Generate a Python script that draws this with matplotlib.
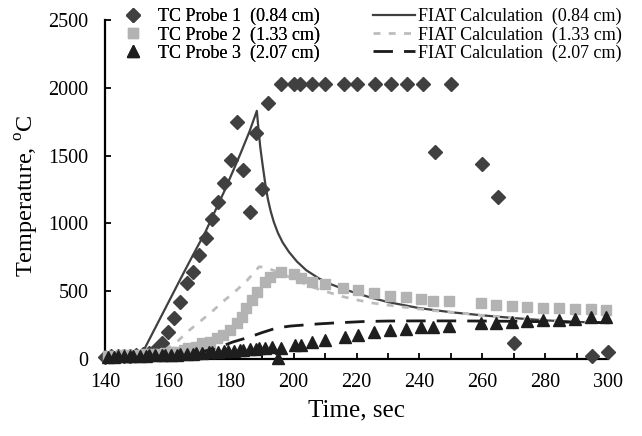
import matplotlib
matplotlib.use('Agg')
import matplotlib.pyplot as plt
from matplotlib.ticker import MultipleLocator

plt.rcParams['font.family'] = ['Liberation Serif', 'DejaVu Serif']
plt.rcParams['mathtext.fontset'] = 'custom'
plt.rcParams['mathtext.rm'] = 'Liberation Serif'

# TC probe measurements (time in s, temperature in C)
probe1_t = [140, 142, 144, 146, 148, 150, 152, 154, 156, 158, 160, 162, 164, 166, 168,
            170, 172, 174, 176, 178, 180, 182, 184, 186, 188, 190, 192, 196, 200, 202,
            206, 210, 216, 220, 226, 231, 236, 241, 245, 250, 260, 265, 270, 295, 300]
probe1_T = [15, 20, 20, 25, 25, 30, 35, 45, 66, 118, 199, 302, 420, 560, 641,
            767, 892, 1032, 1158, 1298, 1467, 1748, 1394, 1084, 1667, 1254, 1888, 2025, 2025, 2025,
            2025, 2025, 2025, 2025, 2025, 2025, 2025, 2025, 1527, 2025, 1438, 1195, 118, 22, 52]

probe2_t = [141, 143, 145, 147, 149, 151, 153, 155, 157, 159, 161, 163, 165, 166.5, 169,
            171, 173.3, 175.6, 177.5, 179.7, 181.9, 183.5, 185, 186.7, 188.3, 190.8, 192.4, 196, 200,
            202.5, 206, 210, 215.6, 220.6, 225.7, 230.8, 235.6, 240.6, 244.4, 249.5, 259.7, 264.4,
            269.5, 274.3, 279.4, 284.4, 289.5, 294.6, 299.4]
probe2_T = [25, 25, 28, 30, 30, 32, 35, 38, 40, 45, 50, 55, 65, 81, 88,
            118, 125, 155, 177, 214, 265, 310, 374, 435, 496, 568, 605, 640, 625,
            600, 568, 553, 524, 509, 487, 465, 457, 442, 428, 428, 413, 398,
            391, 383, 376, 376, 369, 369, 361]

probe3_t = [141, 143, 144, 146, 148, 149, 151, 153, 154, 156, 158, 159, 161, 163, 164,
            166, 168, 169, 171, 173, 174, 176, 178, 179, 181, 183, 184, 186, 188, 189,
            191, 193, 195, 196, 200.3, 202.5, 206, 210, 216.2, 220.6, 225.7, 230.8, 235.6,
            240.6, 244.4, 249.5, 259.7, 264.4, 269.5, 274.3, 279.4, 284.4, 289.5, 294.6, 299.4]
probe3_T = [18, 18, 20, 20, 22, 22, 24, 25, 26, 28, 28, 30, 32, 33, 35,
            37, 40, 42, 45, 48, 50, 53, 56, 58, 62, 65, 68, 72, 75, 78,
            82, 86, 8, 81, 103, 103, 125, 140, 162, 177, 199, 214, 221,
            236, 236, 243, 262, 265, 273, 280, 288, 288, 295, 310, 310]

# FIAT calculations
fiat1_t = [140, 148, 150, 152, 154, 156, 160, 164, 168, 172, 175, 178, 182.9, 186, 188.3,
           188.8, 189.4, 190.2, 191, 191.8, 192.7, 193.7, 195, 196.5, 198.5, 201, 204,
           208, 212, 216, 220, 225, 230, 240, 250, 260, 270, 280, 290, 300]
fiat1_T = [20, 22, 28, 50, 140, 230, 410, 590, 767, 940, 1090, 1240, 1504, 1680, 1830,
           1700, 1560, 1420, 1290, 1180, 1090, 1010, 930, 860, 790, 720, 655,
           595, 550, 515, 485, 450, 420, 375, 345, 322, 302, 285, 274, 265]

fiat2_t = [140, 150, 155, 157, 159, 162.9, 166.3, 170.2, 174, 177.5, 181.3, 185.1, 187.5,
           189, 191, 194, 197, 200, 203, 206, 210.8, 215.6, 220.3, 225, 230.2, 235.2, 240,
           244.8, 249.5, 260, 270, 280, 290, 300]
fiat2_T = [20, 24, 30, 42, 66, 126, 202, 276, 349, 423, 496, 577, 640,
           680, 675, 650, 620, 592, 560, 530, 494, 460, 435, 413, 397, 382, 369,
           356, 347, 322, 302, 286, 276, 268]

fiat3_t = [140, 160, 165, 170, 176.5, 180.6, 186, 190, 194.6, 199, 203.5, 208, 212.4, 222,
           230, 240, 250, 260, 270, 280, 290, 300]
fiat3_T = [15, 20, 30, 50, 88, 125, 162, 195, 229, 243, 251, 259, 265, 276,
           280, 281, 281, 280, 278, 275, 271, 268]

fig = plt.figure(figsize=(6.42, 4.36), dpi=100)
ax = fig.add_axes([105 / 642, 1 - 359 / 436, 503 / 642, 339 / 436])

l1, = ax.plot(fiat1_t, fiat1_T, color='#404040', lw=1.6, zorder=2)
l2, = ax.plot(fiat2_t, fiat2_T, color='#bdbdbd', lw=2.0, dashes=(2.5, 3), zorder=2)
l3, = ax.plot(fiat3_t, fiat3_T, color='#1a1a1a', lw=2.0, dashes=(7, 4), zorder=2)

m1, = ax.plot(probe1_t, probe1_T, 'D', color='#404040', ms=7, ls='none', zorder=3)
m2, = ax.plot(probe2_t, probe2_T, 's', color='#b3b3b3', ms=7.5, ls='none', zorder=3)
m3, = ax.plot(probe3_t, probe3_T, '^', color='#1e1e1e', ms=8, ls='none', zorder=4)

ax.set_xlim(140, 300)
ax.set_ylim(0, 2500)
ax.xaxis.set_major_locator(MultipleLocator(20))
ax.xaxis.set_minor_locator(MultipleLocator(10))
ax.yaxis.set_major_locator(MultipleLocator(500))
for side in ['top', 'right']:
    ax.spines[side].set_visible(False)
for side in ['left', 'bottom']:
    ax.spines[side].set_linewidth(1.6)
ax.tick_params(axis='both', which='both', direction='in', length=4, width=1.3, labelsize=14.5)
ax.tick_params(axis='x', pad=10)
ax.tick_params(axis='y', pad=12)
for line in [m1, m2, m3, l1, l2, l3]:
    line.set_clip_on(False)

ax.set_xlabel('Time, sec', fontsize=18)
ax.xaxis.set_label_coords(0.5, -0.12)
ax.set_ylabel(r'Temperature, $^{\mathrm{o}}$C', fontsize=17.5)
ax.yaxis.set_label_coords(-0.128, 0.48)

leg1 = fig.legend([m1, m2, m3],
                  ['TC Probe 1  (0.84 cm)', 'TC Probe 2  (1.33 cm)', 'TC Probe 3  (2.07 cm)'],
                  loc='upper left', bbox_to_anchor=(124 / 642, 1 - 8 / 436), frameon=False,
                  fontsize=13, handlelength=1.0, handletextpad=0.9, labelspacing=0.05,
                  borderaxespad=0, borderpad=0)
leg2 = fig.legend([l1, l2, l3],
                  ['FIAT Calculation  (0.84 cm)', 'FIAT Calculation  (1.33 cm)',
                   'FIAT Calculation  (2.07 cm)'],
                  loc='upper left', bbox_to_anchor=(373 / 642, 1 - 8 / 436), frameon=False,
                  fontsize=13, handlelength=2.33, handletextpad=0.17, labelspacing=0.05,
                  borderaxespad=0, borderpad=0)
fig.add_artist(leg1)

fig.savefig('out.png', dpi=100)
